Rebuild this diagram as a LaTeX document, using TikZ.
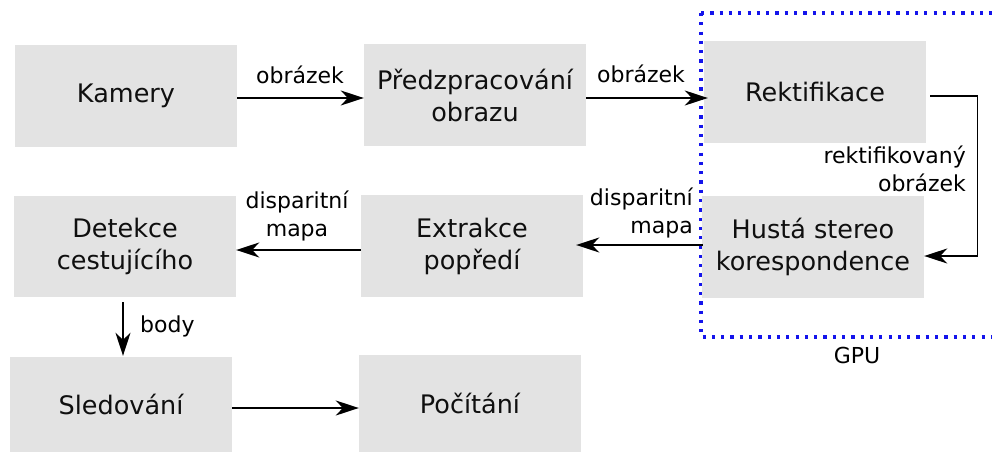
\documentclass[tikz,border=0pt]{standalone}
\usepackage{fontspec}
\setmainfont{DejaVu Sans}
\usetikzlibrary{arrows.meta}
\definecolor{boxgray}{RGB}{227,227,227}
\definecolor{gpublue}{RGB}{20,20,235}
\definecolor{inkc}{RGB}{15,15,15}
\begin{document}
\begin{tikzpicture}[x=1pt,y=1pt,
  box/.style={fill=boxgray, minimum width=222pt, minimum height=102pt, inner sep=0pt,
    align=center, text=inkc, font=\fontsize{25.5}{32}\selectfont},
  lbl/.style={inner sep=0pt, text=black, font=\fontsize{22}{27.5}\selectfont},
  conn/.style={line width=1.7pt, -{Stealth[length=23pt,width=15pt,inset=7pt]}},
  gpubox/.style={draw=gpublue, line width=3.2pt, dash pattern=on 3.2pt off 6.1pt}]
\useasboundingbox (0,0) rectangle (992,-452);
% GPU region
\draw[gpubox] (701,-13) -- (1000,-13) (701,-13) -- (701,-337) -- (1000,-337);
\node[lbl, anchor=base] (gpu) at (857,-363) {GPU};
% boxes
\node[box] (kam) at (126,-96) {Kamery};
\node[box] (pre) at (475,-95) {Předzpracování\\obrazu};
\node[box] (rek) at (815,-92) {Rektifikace};
\node[box] (hus) at (813,-247) {Hustá stereo\\korespondence};
\node[box] (ext) at (472,-246) {Extrakce\\popředí};
\node[box, minimum height=101pt] (det) at (125,-246.5) {Detekce\\cestujícího};
\node[box, minimum height=95pt] (sle) at (121,-404.5) {Sledování};
\node[box, minimum height=97pt] (poc) at (470,-403.5) {Počítání};
% connectors
\draw[conn] ([yshift=-2pt]kam.east) -- ([yshift=-3pt]pre.west);
\draw[conn] ([yshift=-3pt]pre.east) -- ([xshift=4pt,yshift=-6pt]rek.west);
\draw[conn, line width=1.3pt] ([xshift=4pt,yshift=-4pt]rek.east) -- ++(47,0) |- ([yshift=-9pt]hus.east);
\draw[conn] ([xshift=1pt,yshift=2pt]hus.west) -- ([xshift=-7pt,yshift=1pt]ext.east);
\draw[conn] ([yshift=-4pt]ext.west) -- ([yshift=-3.5pt]det.east);
\draw[conn] ([xshift=-2pt,yshift=-5pt]det.south) -- ([xshift=2pt,yshift=1pt]sle.north);
\draw[conn] ([yshift=-3.5pt]sle.east) -- ([yshift=-4.5pt]poc.west);
% labels
\node[lbl, anchor=base] (l1) at (300,-83) {obrázek};
\node[lbl, anchor=base] (l2) at (641,-82) {obrázek};
\node[lbl, anchor=north east, align=right] (l3) at (966,-146) {rektifikovaný\\obrázek};
\node[lbl, anchor=north east, align=right] (l4) at (693,-188) {disparitní\\mapa};
\node[lbl, anchor=north, align=center] (l5) at (297,-191) {disparitní\\mapa};
\node[lbl, anchor=base west] (l6) at (140,-332) {body};
\end{tikzpicture}
\end{document}
